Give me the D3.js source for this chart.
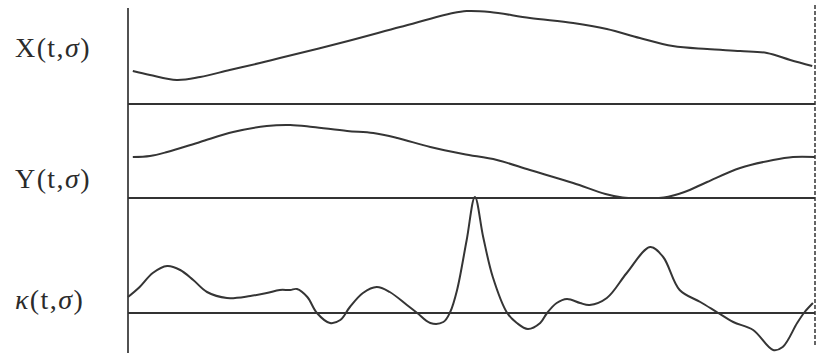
<!DOCTYPE html>
<html>
<head>
<meta charset="utf-8">
<script src="https://cdn.jsdelivr.net/npm/d3@7/dist/d3.min.js"></script>
<style>
  html, body { margin: 0; padding: 0; background: #fff; }
  svg { display: block; }
  .lbl { font-family: "Liberation Serif", "DejaVu Serif", serif; font-size: 28px; fill: #2b2b2b; letter-spacing: 1.4px; }
  .gr { font-style: italic; }
</style>
</head>
<body>
<svg id="chart" width="823" height="358"></svg>
<script>
// Arc-length parameter t (0..100) along the contour
const tX = [0.7, 3.2, 7.1, 10.5, 14.8, 19.2, 22.1, 30.9, 39.6, 47.3, 49.3, 52.7, 58.5, 64.8, 69.7, 74.5, 79.3, 84.3, 89.1, 93.0, 96.4, 99.6];
const xVals = [33, 29, 24, 27, 34, 41, 46, 61, 77, 91, 93, 92, 86, 81, 75, 66, 58, 55, 53, 51, 44, 38];

const tY = [0.7, 3.2, 5.7, 10.5, 15.3, 20.2, 23.6, 26.9, 31.9, 35.7, 39.2, 44.0, 48.8, 53.7, 58.5, 64.8, 69.5, 72.0, 75.0, 78.0, 81.0, 84.3, 89.1, 93.9, 96.8, 100];
const yVals = [41, 42, 46, 56, 66, 72, 73, 71, 67, 65, 60, 51, 44, 38, 28, 15, 4, 0.5, 0, 0.5, 6, 16, 30, 38, 41, 41];

const tK = [0, 1.7, 3.6, 5.7, 7.6, 9.5, 11.5, 14.4, 17.8, 20.2, 22.1, 23.6, 24.6, 26.1, 27.5, 29.4, 30.9, 32.3, 34.2, 36.2, 38.1, 40.6, 42.1, 44.0, 45.9, 46.9, 47.9, 49.3, 50.5, 51.7, 53.1, 55.2, 56.6, 58.2, 60.0, 61.0, 62.4, 63.9, 65.8, 67.2, 69.7, 72.6, 76.0, 77.9, 80.3, 83.3, 85.7, 88.1, 91.0, 93.9, 95.3, 97.4, 98.5, 99.7];
const kVals = [16, 26, 40, 47, 43, 33, 21, 15, 17, 20, 23, 23, 24, 16, 0, -10, -7, 6, 20, 26, 21, 8, 0, -10, -9, 1, 23, 73, 116, 76, 36, 0, -10, -16, -10, 0, 10, 14, 10, 8, 15, 40, 66, 56, 23, 11, 1, -9, -17, -37, -34, -10, 1, 10];

// row labels: function name, then its arguments
const labelNames = ["X", "Y", "\u03BA"];
const labelArgs = ["t,", "\u03C3"];

const svg = d3.select("#chart");
const ink = "#333";

const x = d3.scaleLinear().domain([0, 100]).range([128, 815]);
const yX = d3.scaleLinear().domain([0, 94]).range([104, 10]);
const yY = d3.scaleLinear().domain([0, 93]).range([198, 105]);
const yK = d3.scaleLinear().domain([-40, 116]).range([353, 197]);

const smooth = d3.curveCatmullRom.alpha(0.5);
const panels = [
  { t: tX, v: xVals, y: yX, name: labelNames[0], italic: false, base: 57 },
  { t: tY, v: yVals, y: yY, name: labelNames[1], italic: false, base: 188 },
  { t: tK, v: kVals, y: yK, name: labelNames[2], italic: true, base: 309 }
];

// zero line for each panel
panels.forEach(p => {
  svg.append("line")
    .attr("x1", x(0)).attr("x2", x(100))
    .attr("y1", p.y(0)).attr("y2", p.y(0))
    .attr("stroke", ink).attr("stroke-width", 2.2);
});

// left axis
svg.append("line")
  .attr("x1", x(0)).attr("x2", x(0))
  .attr("y1", yX(96)).attr("y2", yK(-40))
  .attr("stroke", ink).attr("stroke-width", 1.7);

// closing dashed line at the end of the contour
svg.append("line")
  .attr("x1", x(100)).attr("x2", x(100))
  .attr("y1", yX(99)).attr("y2", yK(-34))
  .attr("stroke", ink).attr("stroke-width", 1.5)
  .attr("stroke-dasharray", "4,2");

// curves
panels.forEach(p => {
  const pts = p.t.map((t, i) => [t, p.v[i]]);
  const line = d3.line()
    .x(d => x(d[0]))
    .y(d => p.y(d[1]))
    .curve(smooth);
  svg.append("path")
    .datum(pts)
    .attr("d", line)
    .attr("fill", "none")
    .attr("stroke", "#353535")
    .attr("stroke-width", 2)
    .attr("stroke-linejoin", "round");
});

// row labels
panels.forEach(p => {
  const txt = svg.append("text")
    .attr("class", "lbl")
    .attr("x", 15)
    .attr("y", p.base);
  txt.append("tspan").attr("class", p.italic ? "gr" : null).text(p.name);
  txt.append("tspan").text("(" + labelArgs[0]);
  txt.append("tspan").attr("class", "gr").text(labelArgs[1]);
  txt.append("tspan").text(")");
});
</script>
</body>
</html>
